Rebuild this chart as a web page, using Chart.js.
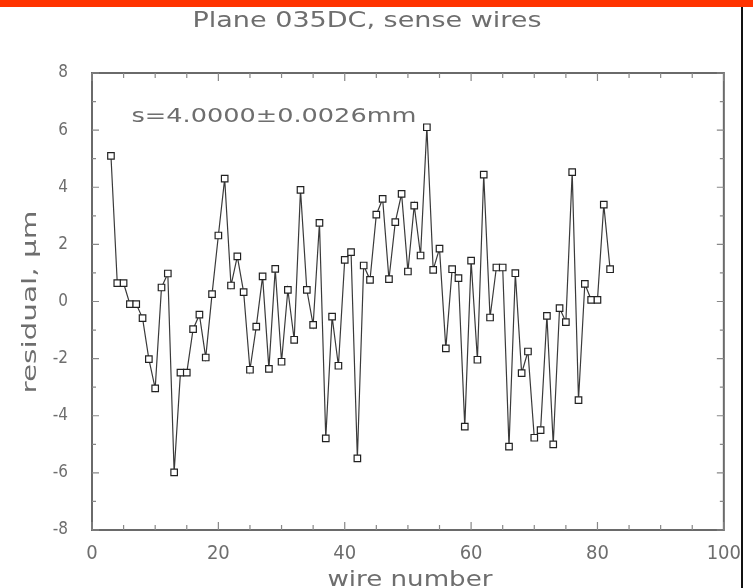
<!DOCTYPE html>
<html>
<head>
<meta charset="utf-8">
<script src="https://cdn.jsdelivr.net/npm/chart.js@4/dist/chart.umd.min.js"></script>
<style>
html,body{margin:0;padding:0;background:#fff;}
#wrap{width:753px;height:588px;position:relative;}
</style>
</head>
<body>
<div id="wrap"><canvas id="c"></canvas></div>
<script>
const titleText = "Plane 035DC, sense wires";
const noteText = "s=4.0000\u00b10.0026mm";
const xTitle = "wire number";
const yTitle = "residual, \u03bcm";

const wires = [3,4,5,6,7,8,9,10,11,12,13,14,15,16,17,18,19,20,21,22,
  23,24,25,26,27,28,29,30,31,32,33,34,35,36,37,38,39,40,41,42,
  43,44,45,46,47,48,49,50,51,52,53,54,55,56,57,58,59,60,61,62,
  63,64,65,66,67,68,69,70,71,72,73,74,75,76,77,78,79,80,81,82];
const residuals = [5.1,0.64,0.64,-0.09,-0.09,-0.58,-2.02,-3.04,0.49,0.98,
  -5.98,-2.49,-2.49,-0.97,-0.46,-1.96,0.26,2.31,4.3,0.56,
  1.58,0.33,-2.39,-0.88,0.88,-2.36,1.14,-2.11,0.41,-1.34,
  3.91,0.41,-0.82,2.75,-4.79,-0.53,-2.25,1.46,1.73,-5.49,
  1.26,0.76,3.04,3.59,0.78,2.78,3.77,1.05,3.36,1.61,
  6.1,1.11,1.85,-1.64,1.13,0.82,-4.38,1.43,-2.04,4.44,
  -0.56,1.19,1.19,-5.08,0.99,-2.51,-1.75,-4.77,-4.5,-0.5,
  -5.0,-0.23,-0.72,4.53,-3.45,0.62,0.06,0.06,3.39,1.13];
const xTicks = [0,20,40,60,80,100];
const yTicks = [-8,-6,-4,-2,0,2,4,6,8];

const FONT = "'DejaVu Sans Condensed','DejaVu Sans',sans-serif";
const TXT = '#6e6e6e';

function fitText(ctx, text, cx, cy, targetW, px, rot, color){
  ctx.save();
  ctx.font = px + "px " + FONT;
  ctx.fillStyle = color || TXT;
  ctx.textAlign = 'center';
  ctx.textBaseline = 'middle';
  const w = ctx.measureText(text).width;
  ctx.translate(cx, cy);
  if (rot) ctx.rotate(rot);
  ctx.scale(targetW / w, 1);
  ctx.fillText(text, 0, 0);
  ctx.restore();
}

const deco = {
  id: 'deco',
  beforeDraw(chart){
    const ctx = chart.ctx;
    ctx.save();
    ctx.fillStyle = '#fff';
    ctx.fillRect(0, 0, chart.width, chart.height);
    ctx.restore();
  },
  afterDraw(chart){
    const ctx = chart.ctx;
    const a = chart.chartArea;
    const xs = chart.scales.x, ys = chart.scales.y;
    ctx.save();
    ctx.strokeStyle = '#6a6a6a';
    ctx.lineWidth = 2;
    ctx.strokeRect(a.left, a.top, a.right - a.left, a.bottom - a.top);
    ctx.lineWidth = 1.2;
    ctx.strokeStyle = '#888';
    for (let v = -8; v <= 8; v++) {
      const y = ys.getPixelForValue(v);
      const len = (v % 2 === 0) ? 7 : 4;
      ctx.beginPath();
      ctx.moveTo(a.left, y); ctx.lineTo(a.left + len, y);
      ctx.moveTo(a.right, y); ctx.lineTo(a.right - len, y);
      ctx.stroke();
    }
    for (let v = 0; v <= 100; v += 5) {
      const x = xs.getPixelForValue(v);
      const len = (v % 20 === 0) ? 8 : 5;
      ctx.beginPath();
      ctx.moveTo(x, a.bottom); ctx.lineTo(x, a.bottom - len);
      ctx.moveTo(x, a.top); ctx.lineTo(x, a.top + len);
      ctx.stroke();
    }
    ctx.fillStyle = '#ff3300';
    ctx.fillRect(0, 0, chart.width, 7);
    ctx.fillStyle = '#111';
    ctx.fillRect(741, 7, 2, chart.height - 7);
    ctx.restore();
    fitText(ctx, titleText, 367, 21, 349, 22);
    fitText(ctx, noteText, 274, 117, 285, 20);
    fitText(ctx, yTitle, 31, 302, 183, 20, -Math.PI/2);
    fitText(ctx, xTitle, 410, 580, 165, 22);
  }
};

new Chart(document.getElementById('c'), {
  type: 'line',
  data: {
    datasets: [{
      data: wires.map((w, i) => ({x: w, y: residuals[i]})),
      borderColor: '#3a3a3a',
      borderWidth: 1.2,
      tension: 0,
      pointStyle: 'rect',
      pointRadius: 4.6,
      pointBackgroundColor: '#fff',
      pointBorderColor: '#222',
      pointBorderWidth: 1.2,
      fill: false
    }]
  },
  options: {
    responsive: true,
    maintainAspectRatio: false,
    animation: false,
    events: [],
    layout: {padding: {left: 0, top: 73, right: 24, bottom: 0}},
    plugins: {legend: {display: false}, title: {display: false}, tooltip: {enabled: false}},
    scales: {
      x: {
        type: 'linear', min: 0, max: 100,
        grid: {display: false, drawTicks: false},
        border: {display: false},
        afterBuildTicks: s => { s.ticks = xTicks.map(v => ({value: v})); },
        afterFit: s => { s.height = 58; },
        ticks: {color: TXT, font: {size: 20, family: FONT}, padding: 12, maxRotation: 0, autoSkip: false}
      },
      y: {
        type: 'linear', min: -8, max: 8,
        grid: {display: false, drawTicks: false},
        border: {display: false},
        afterBuildTicks: s => { s.ticks = yTicks.map(v => ({value: v})); },
        afterFit: s => { s.width = 92; },
        ticks: {color: TXT, font: {size: 17, family: FONT}, padding: 24, autoSkip: false}
      }
    }
  },
  plugins: [deco]
});
</script>
</body>
</html>
